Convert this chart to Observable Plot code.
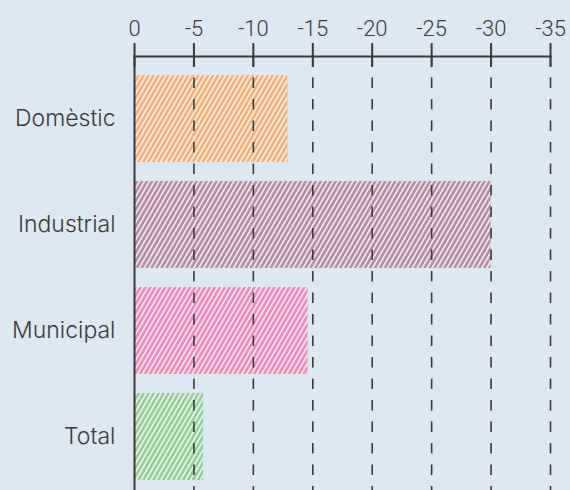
<!DOCTYPE html>
<html>
<head>
<meta charset="utf-8">
<script src="https://cdn.jsdelivr.net/npm/d3@7"></script>
<script src="https://cdn.jsdelivr.net/npm/@observablehq/plot@0.6"></script>
<style>
  html, body { margin: 0; padding: 0; background: #dce8f4; }
  #chart { width: 570px; height: 490px; }
</style>
</head>
<body>
<div id="chart"></div>
<script>
const categories = ["Domèstic", "Industrial", "Municipal", "Total"];
const values = [-12.9, -30.0, -14.6, -5.8];
const barColors = ["#f9ae78", "#b98ca9", "#f08ab8", "#95cd95"];
const tickValues = [0, -5, -10, -15, -20, -25, -30, -35];

const data = categories.map((c, i) => ({cat: categories[i], value: values[i], color: barColors[i]}));
const gridValues = tickValues.filter(d => d !== 0);

const ink = "#3a3a3a";

const chart = Plot.plot({
  width: 570,
  height: 490,
  marginLeft: 134,
  marginRight: 20,
  marginTop: 56,
  marginBottom: 0,
  style: {fontFamily: "Inter, Roboto, sans-serif", fontSize: "23px", fontWeight: 300, color: ink, background: "#dce8f4"},
  x: {domain: [0, -35], range: [134, 550], axis: null},
  y: {domain: categories, range: [56, 499], padding: 0.18, round: false, axis: null},
  color: {type: "identity"},
  marks: [
    Plot.barX(data, {x: "value", y: "cat", fill: "color"}),
    Plot.barX(data, {x: "value", y: "cat", fill: "url(#hatch)"}),
    Plot.ruleX(gridValues, {stroke: ink, strokeWidth: 1.6, strokeDasharray: "10.5,11"}),
    Plot.ruleX([0], {stroke: ink, strokeWidth: 2}),
    Plot.frame({anchor: "top", stroke: ink, strokeWidth: 2}),
    Plot.axisX({anchor: "top", ticks: tickValues, tickSize: 24, dy: 10, tickPadding: 7,
      tickFormat: d => String(d), stroke: ink, strokeWidth: 2, fontSize: 22, fill: ink, label: null,
      fontFamily: "Roboto, sans-serif", fontWeight: 300}),
    Plot.axisY({tickSize: 0, tickPadding: 19, fontSize: 23, fill: ink, label: null})
  ]
});

d3.select(chart).selectAll("text").style("letter-spacing", null);
d3.select(chart).insert("defs", ":first-child").html(`
  <pattern id="hatch" patternUnits="userSpaceOnUse" width="4.3" height="10" patternTransform="rotate(30)">
    <rect x="0" y="0" width="1.5" height="10" fill="#ffffff" fill-opacity="0.9"></rect>
  </pattern>`);

document.getElementById("chart").appendChild(chart);
</script>
</body>
</html>
